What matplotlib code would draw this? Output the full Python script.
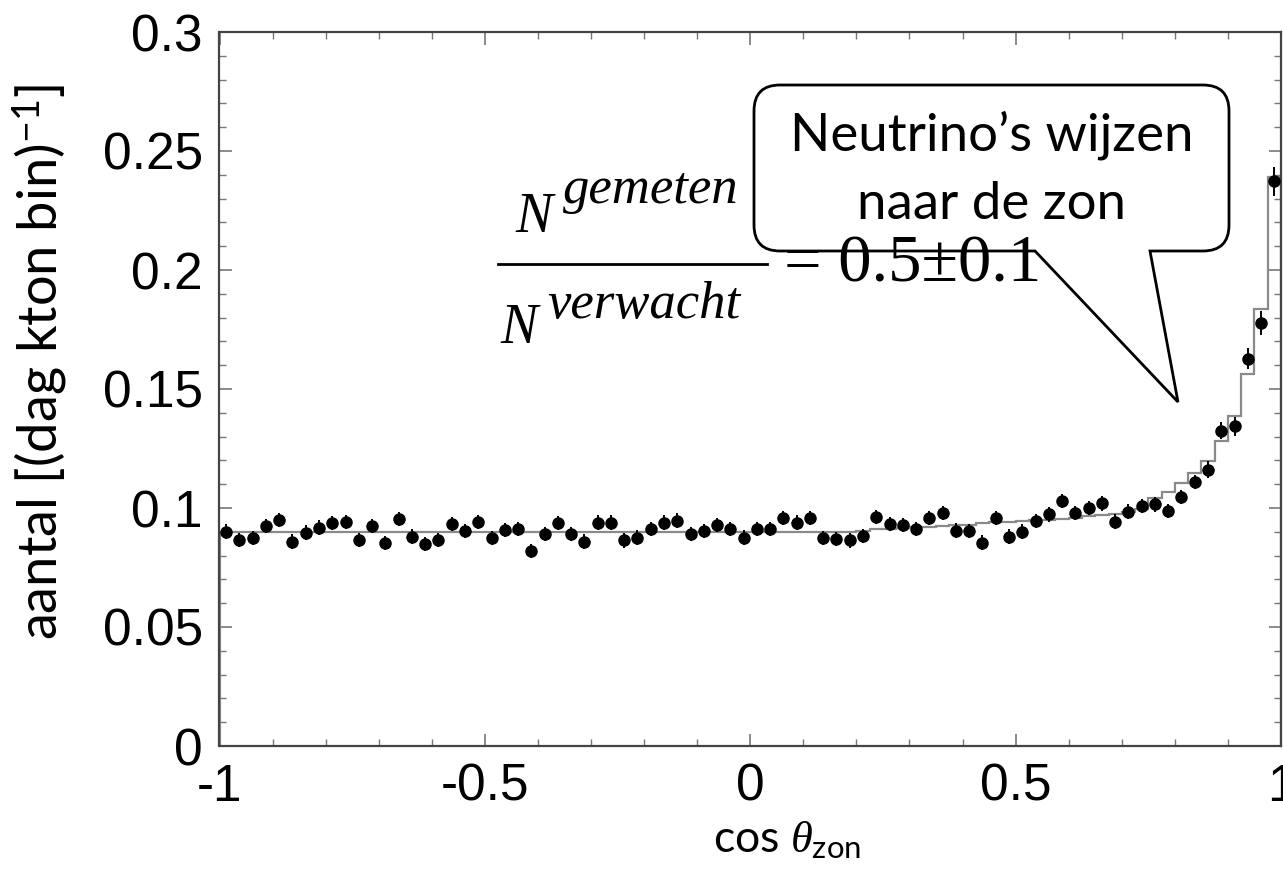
import numpy as np
import matplotlib
matplotlib.use("Agg")
import matplotlib.pyplot as plt
from matplotlib.path import Path
from matplotlib.patches import PathPatch
from matplotlib.transforms import Affine2D

plt.rcParams['axes.unicode_minus'] = False
plt.rcParams['mathtext.fontset'] = 'custom'
plt.rcParams['mathtext.rm'] = 'Lato'
plt.rcParams['mathtext.it'] = 'Liberation Serif:italic'

# cos(theta_sun) bins, 80 bins of width 0.025
bin_edges = np.linspace(-1, 1, 81)

# measured event rate per bin
rate = [0.0901, 0.0866, 0.0873, 0.0925, 0.0950, 0.0859, 0.0897, 0.0918, 0.0936, 0.0940,
        0.0866, 0.0925, 0.0852, 0.0953, 0.0880, 0.0848, 0.0866, 0.0932, 0.0904, 0.0940,
        0.0873, 0.0907, 0.0912, 0.0818, 0.0890, 0.0936, 0.0890, 0.0859, 0.0939, 0.0939,
        0.0864, 0.0876, 0.0912, 0.0939, 0.0947, 0.0890, 0.0904, 0.0929, 0.0912, 0.0876,
        0.0912, 0.0912, 0.0957, 0.0939, 0.0957, 0.0873, 0.0871, 0.0864, 0.0883, 0.0961,
        0.0933, 0.0929, 0.0911, 0.0957, 0.0978, 0.0905, 0.0904, 0.0855, 0.0957, 0.0880,
        0.0901, 0.0946, 0.0973, 0.1029, 0.0978, 0.1001, 0.1019, 0.0943, 0.0985, 0.1008,
        0.1015, 0.0987, 0.1047, 0.1110, 0.1161, 0.1325, 0.1343, 0.1627, 0.1777, 0.2372]

rate_err = [0.003, 0.003, 0.003, 0.003, 0.003, 0.003, 0.003, 0.003, 0.003, 0.003,
            0.003, 0.003, 0.003, 0.003, 0.003, 0.003, 0.003, 0.003, 0.003, 0.003,
            0.003, 0.003, 0.003, 0.003, 0.003, 0.003, 0.003, 0.003, 0.003, 0.003,
            0.003, 0.003, 0.003, 0.003, 0.003, 0.003, 0.003, 0.003, 0.003, 0.003,
            0.003, 0.003, 0.003, 0.003, 0.003, 0.003, 0.003, 0.003, 0.003, 0.003,
            0.003, 0.003, 0.003, 0.003, 0.003, 0.003, 0.003, 0.003, 0.003, 0.003,
            0.003, 0.003, 0.003, 0.003, 0.003, 0.003, 0.003, 0.003, 0.003, 0.003,
            0.003, 0.003, 0.003, 0.003, 0.0035, 0.0035, 0.004, 0.0045, 0.005, 0.006]

# expected (MC) rate per bin
expected = [0.090, 0.090, 0.090, 0.090, 0.090, 0.090, 0.090, 0.090, 0.090, 0.090,
            0.090, 0.090, 0.090, 0.090, 0.090, 0.090, 0.090, 0.090, 0.090, 0.090,
            0.090, 0.090, 0.090, 0.090, 0.090, 0.090, 0.090, 0.090, 0.090, 0.090,
            0.090, 0.090, 0.090, 0.090, 0.090, 0.090, 0.090, 0.090, 0.090, 0.090,
            0.090, 0.090, 0.090, 0.090, 0.090, 0.090, 0.090, 0.090, 0.0905, 0.091,
            0.091, 0.0915, 0.092, 0.092, 0.0925, 0.093, 0.093, 0.0935, 0.094, 0.094,
            0.0945, 0.095, 0.095, 0.0955, 0.096, 0.0965, 0.097, 0.0975, 0.0985, 0.0995,
            0.104, 0.1068, 0.1103, 0.1145, 0.1196, 0.128, 0.1388, 0.1564, 0.1837, 0.2389]

x_ticks = [-1, -0.5, 0, 0.5, 1]
x_ticklabels = ['-1', '-0.5', '0', '0.5', '1']
y_ticks = [0, 0.05, 0.1, 0.15, 0.2, 0.25, 0.3]
y_ticklabels = ['0', '0.05', '0.1', '0.15', '0.2', '0.25', '0.3']

W, H = 1283, 889
fig = plt.figure(figsize=(W / 100, H / 100), dpi=100)
ax = fig.add_axes([219.5 / W, (H - 746) / H, 1061.5 / W, 714 / H])

# pixel coords (y down) -> figure
px = Affine2D().scale(1 / W, -1 / H).translate(0, 1) + fig.transFigure

centers = 0.5 * (bin_edges[:-1] + bin_edges[1:])
ax.stairs(expected, bin_edges, color='#8a8a8a', lw=1.6, zorder=2)
ax.errorbar(centers, rate, yerr=rate_err, fmt='o', color='black', ms=8,
            elinewidth=1.4, capsize=0, zorder=3, clip_on=False)

ax.set_xlim(-1, 1)
ax.set_ylim(0, 0.3)
ax.set_xticks(x_ticks)
ax.set_xticklabels(x_ticklabels)
ax.set_yticks(y_ticks)
ax.set_yticklabels(y_ticklabels)
ax.set_xticks(np.arange(-1, 1.001, 0.1), minor=True)
ax.set_yticks(np.arange(0, 0.3001, 0.01), minor=True)
ax.tick_params(which='both', direction='in', top=True, right=True, color='#777777')
ax.tick_params(which='major', length=9, width=1.2, labelsize=37, pad=12)
ax.tick_params(which='minor', length=5, width=1.0)
for lab in ax.get_xticklabels() + ax.get_yticklabels():
    lab.set_family('Liberation Sans')
for s in ax.spines.values():
    s.set_color('#444444')
    s.set_linewidth(1.6)

fig.text(40, 362, r"aantal [(dag kton bin)$^{-1}$]", transform=px, rotation=90,
         ha='center', va='center', family='Lato', fontsize=39)
fig.text(787, 852, r"cos $\theta_{\mathrm{zon}}$", transform=px, ha='center',
         va='baseline', family='Lato', fontsize=32)

# ratio formula
serif = 'Liberation Serif'
fig.text(515, 232, "N", transform=px, family=serif, style='italic', fontsize=40)
fig.text(563, 203, "gemeten", transform=px, family=serif, style='italic', fontsize=38)
fig.add_artist(plt.Line2D([498 / W, 767 / W], [1 - 264 / H, 1 - 264 / H],
                          transform=fig.transFigure, color='black', lw=2))
fig.text(500, 343, "N", transform=px, family=serif, style='italic', fontsize=40)
fig.text(547, 318, "verwacht", transform=px, family=serif, style='italic', fontsize=38)
fig.text(784, 282, "= 0.5±0.1", transform=px, family=serif, fontsize=48, zorder=5)

# callout box
L, R, T, B, r = 754, 1229, 85, 251, 26
verts = [(L + r, T), (R - r, T), (R, T), (R, T + r), (R, B - r), (R, B), (R - r, B),
         (1150, B), (1178, 402), (1035, B), (L + r, B), (L, B), (L, B - r),
         (L, T + r), (L, T), (L + r, T), (L + r, T)]
codes = [Path.MOVETO, Path.LINETO, Path.CURVE3, Path.CURVE3, Path.LINETO, Path.CURVE3,
         Path.CURVE3, Path.LINETO, Path.LINETO, Path.LINETO, Path.LINETO, Path.CURVE3,
         Path.CURVE3, Path.LINETO, Path.CURVE3, Path.CURVE3, Path.CLOSEPOLY]
fig.add_artist(PathPatch(Path(verts, codes), transform=px, facecolor='none',
                         edgecolor='black', lw=2))
fig.text(991.5, 150, "Neutrino’s wijzen", transform=px, ha='center', va='baseline',
         family='Lato', fontsize=38)
fig.text(991.5, 219, "naar de zon", transform=px, ha='center', va='baseline',
         family='Lato', fontsize=38)

fig.savefig("out.png", dpi=100)
